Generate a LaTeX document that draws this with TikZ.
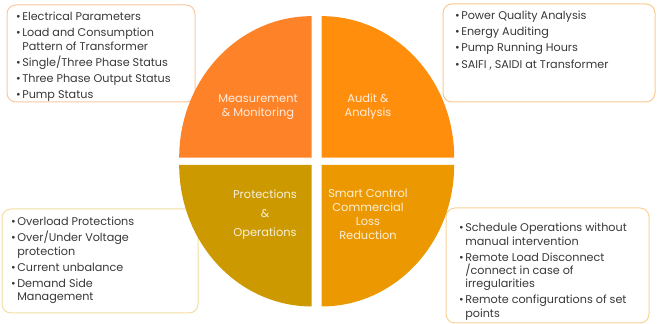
\documentclass[tikz,border=0pt]{standalone}
\usepackage{fontspec}
\setmainfont{Poppins}
\usepackage{xcolor}

\definecolor{measure}{HTML}{FD8228}
\definecolor{audit}{HTML}{FF8E0D}
\definecolor{protect}{HTML}{CC9900}
\definecolor{smart}{HTML}{EC9800}
\definecolor{measureline}{HTML}{FAC8A0}
\definecolor{auditline}{HTML}{FBC98F}
\definecolor{protectline}{HTML}{F2DDA0}
\definecolor{smartline}{HTML}{FAD296}
\definecolor{listgray}{HTML}{383838}

\newcommand{\bul}{\textbullet\hspace{1.5pt}}
\newcommand{\hang}{\phantom{\textbullet}\hspace{1.5pt}}

\tikzset{
  listbox/.style={rounded corners=9pt, line width=1pt},
  listtext/.style={anchor=north west, inner sep=0pt, align=left, text=listgray,
    font=\fontsize{11.2}{13.3}\selectfont},
  quadtext/.style={align=center, text=white, text opacity=0.85,
    font=\fontsize{11.4}{13.8}\selectfont}
}

\begin{document}
\begin{tikzpicture}[x=1pt,y=1pt]
  \useasboundingbox (0,0) rectangle (657,324);
  \pgfmathsetmacro{\cx}{316.7}
  \pgfmathsetmacro{\cy}{162.7}
  \pgfmathsetmacro{\g}{5}
  \pgfmathsetmacro{\h}{3.65}
  \pgfmathsetmacro{\rx}{132.5}
  \pgfmathsetmacro{\ry}{141.5}

  % frames behind the wheel
  \draw[listbox, measureline] (7,222) rectangle (195,319);
  \draw[listbox, auditline] (443,222) rectangle (655,320);
  \draw[listbox, protectline] (2,11) rectangle (198,115);
  \draw[listbox, smartline] (446,1) rectangle (649,116);

  % four quarters of the wheel
  \foreach \dx/\dy/\ang/\col in {-1/1/90/measure, 1/1/0/audit, -1/-1/180/protect, 1/-1/270/smart}{
    \fill[\col] (\cx+\dx*\g,\cy+\dy*\h) -- ++({\rx*cos(\ang)},{\ry*sin(\ang)})
      arc[start angle=\ang, delta angle=90, x radius=\rx, y radius=\ry] -- cycle;
  }

  \node[quadtext] (measurenode) at (258,217) {Measurement\\ \& Monitoring};
  \node[quadtext] (auditnode) at (368,217) {Audit \&\\ Analysis};
  \node[quadtext, font=\fontsize{11.4}{19}\selectfont] (protectnode) at (265,109) {Protections\\ \&\\ Operations};
  \node[quadtext] (smartnode) at (368,109.5) {Smart Control\\ Commercial\\ Loss\\ Reduction};

  \node[listtext] (measurelist) at (16,312) {\bul Electrical Parameters\\[2.8pt]
    \bul Load and Consumption\\ \hang Pattern of Transformer\\[2.8pt]
    \bul Single/Three Phase Status\\[2.8pt]
    \bul Three Phase Output Status\\[2.8pt]
    \bul Pump Status};
  \node[listtext] (auditlist) at (455,313) {\bul Power Quality Analysis\\[2.8pt]
    \bul Energy Auditing\\[2.8pt]
    \bul Pump Running Hours\\[2.8pt]
    \bul SAIFI , SAIDI at Transformer};
  \node[listtext] (protectlist) at (11,107) {\bul Overload Protections\\[2.8pt]
    \bul Over/Under Voltage\\ \hang protection\\[2.8pt]
    \bul Current unbalance\\[2.8pt]
    \bul Demand Side\\ \hang Management};
  \node[listtext] (smartlist) at (459,101) {\bul Schedule Operations without\\ \hang manual intervention\\[2.8pt]
    \bul Remote Load Disconnect\\ \hang /connect in case of\\ \hang irregularities\\[2.8pt]
    \bul Remote configurations of set\\ \hang points};
\end{tikzpicture}
\end{document}
